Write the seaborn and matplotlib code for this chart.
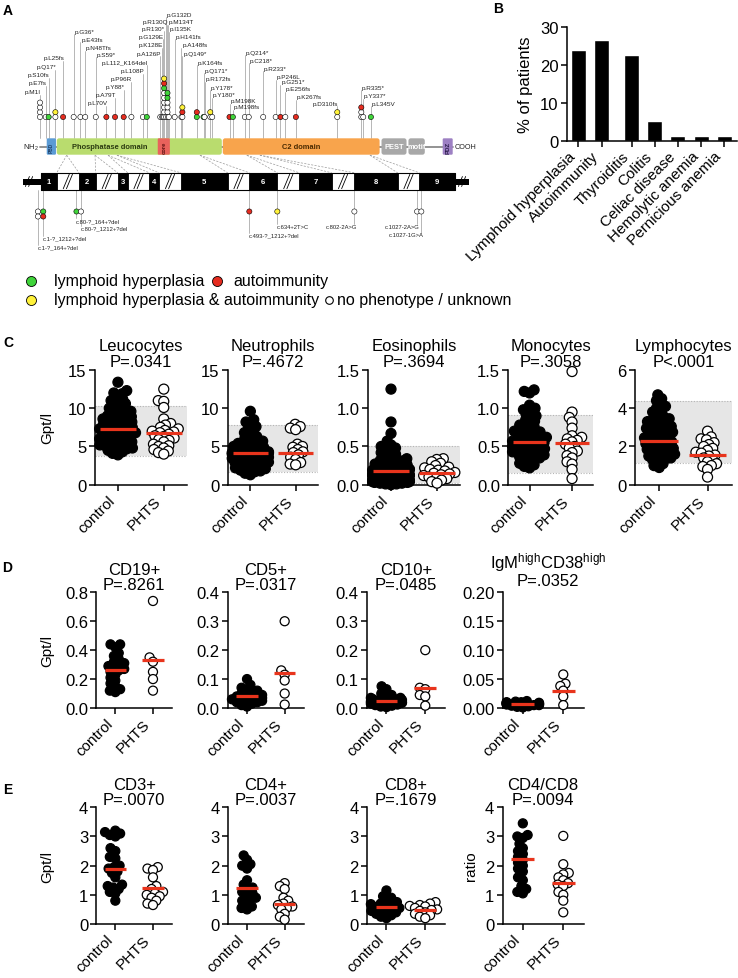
import numpy as np
import pandas as pd
import matplotlib
matplotlib.use('Agg')
import matplotlib.pyplot as plt
import seaborn as sns
from matplotlib.patches import FancyBboxPatch, Rectangle

# ====================== DATA ======================
# ---- Panel A: PTEN protein mutations (amino-acid position, phenotype stack) ----
mut_labels = ['p.M1I', 'p.E7fs', 'p.S10fs', 'p.Q17*', 'p.L25fs',
              'p.G36*', 'p.E43fs', 'p.N48Tfs', 'p.S59*',
              'p.L70V', 'p.A79T', 'p.Y88*', 'p.P96R', 'p.L108P', 'p.L112_K164del',
              'p.A126P', 'p.K128E', 'p.G129E', 'p.R130*', 'p.R130Q',
              'p.G132D', 'p.M134T', 'p.I135K', 'p.H141fs', 'p.A148fs', 'p.Q149*',
              'p.K164fs', 'p.Q171*', 'p.R172fs', 'p.Y178*', 'p.Y180*', 'p.M198K', 'p.M198fs',
              'p.Q214*', 'p.C218*', 'p.R233*', 'p.P246L', 'p.G251*', 'p.E256fs', 'p.K267fs', 'p.D310fs',
              'p.R335*', 'p.Y337*', 'p.L345V']
mut_pos = [1, 7, 10, 17, 25, 36, 43, 48, 59, 70, 79, 88, 96, 108, 112,
           126, 128, 129, 130, 130, 132, 134, 135, 141, 148, 149,
           164, 171, 172, 178, 180, 198, 198,
           214, 218, 233, 246, 251, 256, 267, 310, 335, 337, 345]
# g = lymphoid hyperplasia, r = autoimmunity, y = both, w = none/unknown (bottom -> top)
mut_pheno = ['wwww', 'w', 'g', 'wy', 'r', 'w', 'w', 'w', 'w',
             'r', 'r', 'r', 'w', 'w', 'g',
             'w', 'w', 'w', 'wwwwwwgry', 'wwwwgg',
             'w', 'w', 'w', 'w', 'w', 'wry',
             'gr', 'g', 'w', 'wy', 'w', 'r', 'g',
             'w', 'w', 'w', 'w', 'r', 'w', 'r', 'wy',
             'wwr', 'w', 'g']

domain_names = ['PBD', 'Phosphatase domain', 'core', 'C2 domain', 'PEST', 'motif', 'PDZ']
domain_start = [8, 18.4, 123.4, 191, 356, 384, 419.6]
domain_end = [17.6, 190, 136, 354, 382, 401, 430]

exon_names = ['1', '2', '3', '4', '5', '6', '7', '8', '9']
exon_start = [1.7, 41.5, 81.8, 114.6, 147.6, 218.6, 270.5, 327.8, 395.3]
exon_end = [18.4, 58.9, 92.2, 124.7, 196.1, 247.7, 304.2, 372.8, 432.4]
junction_prot = [28.8, 58.2, 71.7, 81.0, 167.3, 216.0, 229.6, 344.0]

splice_labels = ['c.1-?_1212+?del', 'c.1-?_164+?del', 'c.80-?_164+?del', 'c.80-?_1212+?del',
                 'c.493-?_1212+?del', 'c.634+2T>C', 'c.802-2A>G', 'c.1027-2A>G', 'c.1027-1G>A']
splice_pos = [1.7, 1.7, 41.5, 41.5, 218.6, 247.7, 327.8, 395.3, 395.3]
splice_pheno = ['gr', 'ww', 'g', 'w', 'r', 'y', 'w', 'w', 'w']

legend_labels = ['lymphoid hyperplasia', 'autoimmunity',
                 'lymphoid hyperplasia & autoimmunity', 'no phenotype / unknown']

# ---- Panel B ----
b_categories = ['Lymphoid hyperplasia', 'Autoimmunity', 'Thyroiditis', 'Colitis',
                'Celiac disease', 'Hemolytic anemia', 'Pernicious anemia']
b_values = [24.1, 26.6, 22.8, 5.1, 1.3, 1.3, 1.3]

# ---- Panel C ----
groups = ['control', 'PHTS']
c_titles = ['Leucocytes', 'Neutrophils', 'Eosinophils', 'Monocytes', 'Lymphocytes']
c_pvals = ['P=.0341', 'P=.4672', 'P=.3694', 'P=.3058', 'P<.0001']
leuco_ctrl = [13.4, 12.3, 12.0, 11.9, 11.5, 11.2, 11.0, 10.8, 10.6, 10.4, 10.2, 10.0, 9.9, 9.8, 9.6,
              9.5, 9.4, 9.2, 9.1, 9.0, 8.9, 8.8, 8.7, 8.6, 8.5, 8.4, 8.3, 8.2, 8.1, 8.0, 7.9, 7.8,
              7.7, 7.6, 7.5, 7.4, 7.3, 7.3, 7.2, 7.1, 7.0, 6.9, 6.8, 6.7, 6.6, 6.5, 6.4, 6.3, 6.2,
              6.1, 6.0, 5.9, 5.8, 5.7, 5.6, 5.5, 5.4, 5.3, 5.2, 5.1, 5.0, 4.9, 4.8, 4.7, 4.6, 4.5,
              4.3, 4.1, 3.9]
leuco_phts = [12.5, 11.0, 10.9, 10.1, 8.6, 8.0, 7.8, 7.5, 7.3, 7.1, 7.0, 6.9, 6.8, 6.6, 6.4, 6.3,
              6.1, 5.9, 5.8, 5.6, 5.3, 5.1, 5.0, 4.8, 4.6, 4.4, 4.2, 4.0]
neutro_ctrl = [9.6, 8.5, 8.2, 7.9, 7.6, 7.3, 7.0, 6.8, 6.5, 6.3, 6.1, 5.9, 5.7, 5.5, 5.4, 5.3, 5.2,
               5.1, 5.0, 4.9, 4.8, 4.7, 4.6, 4.5, 4.4, 4.3, 4.2, 4.15, 4.1, 4.05, 4.0, 3.95, 3.9,
               3.8, 3.7, 3.6, 3.5, 3.45, 3.4, 3.3, 3.2, 3.1, 3.0, 2.95, 2.9, 2.8, 2.7, 2.6, 2.5,
               2.4, 2.3, 2.2, 2.1, 2.0, 1.9, 1.8, 1.7, 1.5, 1.3]
neutro_phts = [7.9, 7.6, 7.4, 7.2, 5.3, 5.0, 4.9, 4.6, 4.3, 4.2, 3.9, 3.6, 3.3, 2.9, 2.7, 2.6]
eosino_ctrl = [1.25, 0.82, 0.67, 0.57, 0.52, 0.50, 0.48, 0.46, 0.44, 0.42, 0.40, 0.38, 0.36, 0.34,
               0.32, 0.31, 0.30, 0.29, 0.28, 0.27, 0.26, 0.25, 0.24, 0.23, 0.22, 0.21, 0.20, 0.20,
               0.19, 0.18, 0.18, 0.17, 0.16, 0.16, 0.15, 0.14, 0.14, 0.13, 0.12, 0.12, 0.11, 0.10,
               0.10, 0.09, 0.08, 0.08, 0.07, 0.06, 0.06, 0.05, 0.05, 0.04, 0.04, 0.03, 0.03, 0.02,
               0.02, 0.01, 0.01, 0.0]
eosino_phts = [0.34, 0.33, 0.30, 0.28, 0.25, 0.23, 0.22, 0.20, 0.19, 0.18, 0.16, 0.15, 0.14, 0.13,
               0.12, 0.10, 0.09, 0.08, 0.06, 0.04, 0.02]
mono_ctrl = [1.24, 1.22, 1.20, 1.04, 1.00, 0.98, 0.95, 0.92, 0.90, 0.88, 0.85, 0.83, 0.80, 0.78,
             0.76, 0.74, 0.72, 0.70, 0.69, 0.68, 0.66, 0.65, 0.64, 0.62, 0.61, 0.60, 0.59, 0.58,
             0.57, 0.56, 0.55, 0.54, 0.53, 0.52, 0.51, 0.50, 0.49, 0.48, 0.47, 0.46, 0.45, 0.44,
             0.43, 0.42, 0.41, 0.40, 0.39, 0.38, 0.36, 0.35, 0.34, 0.32, 0.30, 0.28, 0.26, 0.24,
             0.22]
mono_phts = [1.48, 0.95, 0.88, 0.82, 0.74, 0.64, 0.62, 0.60, 0.58, 0.56, 0.53, 0.50, 0.48, 0.44,
             0.42, 0.38, 0.35, 0.30, 0.27, 0.20, 0.08]
lympho_ctrl = [4.7, 4.5, 4.4, 4.2, 4.1, 4.0, 3.9, 3.8, 3.7, 3.6, 3.5, 3.45, 3.4, 3.3, 3.25, 3.2,
               3.1, 3.05, 3.0, 2.95, 2.9, 2.85, 2.8, 2.75, 2.7, 2.65, 2.6, 2.55, 2.5, 2.45, 2.4,
               2.35, 2.3, 2.25, 2.2, 2.15, 2.1, 2.05, 2.0, 1.95, 1.9, 1.85, 1.8, 1.75, 1.7, 1.65,
               1.6, 1.55, 1.5, 1.45, 1.4, 1.35, 1.3, 1.2, 1.1, 1.0, 0.9]
lympho_phts = [2.8, 2.5, 2.4, 2.35, 2.2, 2.1, 2.0, 1.9, 1.8, 1.7, 1.65, 1.55, 1.5, 1.4, 1.3, 1.2,
               1.1, 1.0, 0.95, 0.8, 0.4]
c_ctrl_lines = [7.3, 4.1, 0.18, 0.56, 2.3]
c_phts_lines = [6.7, 4.2, 0.15, 0.54, 1.55]
c_normal_lo = [3.8, 1.6, 0.02, 0.15, 1.12]
c_normal_hi = [10.3, 7.8, 0.5, 0.91, 4.36]

# ---- Panel D ----
d_titles = ['CD19+', 'CD5+', 'CD10+', r'IgM$^{\mathregular{high}}$CD38$^{\mathregular{high}}$']
d_pvals = ['P=.8261', 'P=.0317', 'P=.0485', 'P=.0352']
cd19_ctrl = [0.44, 0.44, 0.42, 0.38, 0.36, 0.34, 0.32, 0.31, 0.30, 0.29, 0.28, 0.27, 0.26, 0.25,
             0.23, 0.21, 0.19, 0.17, 0.15, 0.13, 0.12, 0.11]
cd19_phts = [0.74, 0.35, 0.32, 0.25, 0.20, 0.12]
cd5_ctrl = [0.10, 0.08, 0.07, 0.065, 0.06, 0.055, 0.05, 0.045, 0.045, 0.04, 0.04, 0.035, 0.035,
            0.03, 0.03, 0.025, 0.025, 0.02, 0.02, 0.015, 0.01, 0.005]
cd5_phts = [0.30, 0.13, 0.115, 0.095, 0.05, 0.012]
cd10_ctrl = [0.075, 0.065, 0.05, 0.045, 0.04, 0.035, 0.035, 0.03, 0.03, 0.028, 0.025, 0.025,
             0.022, 0.02, 0.02, 0.018, 0.015, 0.012, 0.01, 0.008, 0.005, 0.003]
cd10_phts = [0.20, 0.07, 0.065, 0.045, 0.04, 0.008]
igm_ctrl = [0.012, 0.011, 0.010, 0.010, 0.009, 0.009, 0.008, 0.008, 0.007, 0.007, 0.006, 0.006,
            0.005, 0.005, 0.004, 0.003, 0.002, 0.001]
igm_phts = [0.058, 0.042, 0.038, 0.030, 0.020, 0.005]
d_ctrl_lines = [0.265, 0.04, 0.025, 0.007]
d_phts_lines = [0.33, 0.12, 0.07, 0.03]

# ---- Panel E ----
e_titles = ['CD3+', 'CD4+', 'CD8+', 'CD4/CD8']
e_pvals = ['P=.0070', 'P=.0037', 'P=.1679', 'P=.0094']
cd3_ctrl = [3.2, 3.15, 3.1, 3.05, 3.0, 2.6, 2.5, 2.3, 2.25, 2.0, 1.95, 1.9, 1.8, 1.75, 1.6, 1.35,
            1.3, 1.25, 1.2, 1.1, 1.05, 0.8]
cd3_phts = [1.95, 1.9, 1.85, 1.6, 1.3, 1.2, 1.1, 1.05, 1.0, 0.95, 0.9, 0.8, 0.7, 0.65]
cd4_ctrl = [2.35, 2.2, 2.05, 2.0, 1.9, 1.5, 1.35, 1.25, 1.2, 1.1, 1.05, 1.0, 0.9, 0.85, 0.8, 0.7,
            0.6, 0.55, 0.5]
cd4_phts = [1.4, 1.3, 1.2, 0.9, 0.8, 0.7, 0.65, 0.6, 0.55, 0.5, 0.35, 0.25, 0.15]
cd8_ctrl = [1.15, 0.95, 0.9, 0.8, 0.75, 0.7, 0.68, 0.65, 0.6, 0.58, 0.55, 0.5, 0.48, 0.45, 0.4,
            0.38, 0.35, 0.3, 0.25, 0.2]
cd8_phts = [0.75, 0.7, 0.65, 0.62, 0.6, 0.55, 0.5, 0.48, 0.45, 0.4, 0.35, 0.3, 0.25, 0.2]
ratio_ctrl = [3.45, 3.05, 3.0, 2.95, 2.75, 2.6, 2.5, 2.4, 2.3, 2.2, 2.1, 2.0, 1.9, 1.8, 1.6, 1.5,
              1.3, 1.2, 1.1, 1.05]
ratio_phts = [3.02, 2.05, 1.75, 1.7, 1.6, 1.5, 1.4, 1.35, 1.3, 1.1, 1.0, 0.8, 0.4]
e_ctrl_lines = [1.87, 1.23, 0.58, 2.22]
e_phts_lines = [1.22, 0.68, 0.47, 1.42]

# ====================== STYLE / LAYOUT ======================
sns.set_theme(style='ticks')
plt.rcParams['font.family'] = ['Liberation Sans', 'DejaVu Sans']
plt.rcParams['mathtext.fontset'] = 'custom'
plt.rcParams['mathtext.rm'] = 'Liberation Sans'
plt.rcParams['mathtext.it'] = 'Liberation Sans:italic'
plt.rcParams['mathtext.bf'] = 'Liberation Sans:bold'
for k in ['text.color', 'axes.labelcolor', 'xtick.color', 'ytick.color', 'axes.edgecolor']:
    plt.rcParams[k] = 'black'

W, H = 738, 979
fig = plt.figure(figsize=(W / 100, H / 100), dpi=100)
RED = '#e8341c'
PHENO_COLORS = {'g': '#3fd43a', 'r': '#e52b1f', 'y': '#fff23a', 'w': 'white'}
GROUP_COLORS = {'control': 'black', 'PHTS': 'white'}


def add_ax(x0, y0, x1, y1):
    return fig.add_axes([x0 / W, 1 - y1 / H, (x1 - x0) / W, (y1 - y0) / H])


def style_ax(ax, labelsize=12):
    sns.despine(ax=ax)
    for s in ['left', 'bottom']:
        ax.spines[s].set_linewidth(1.1)
        ax.spines[s].set_color('black')
    ax.tick_params(direction='out', length=4, width=1.1, colors='black',
                   labelsize=labelsize, pad=2)


# ====================== PANEL A ======================
PX_PER_AA = 0.962
def px2aa(px):
    return (px - 40) / PX_PER_AA + 1
PXU = 1 / PX_PER_AA

axA = add_ax(0, 0, 470, 310)
axA.set_xlim(px2aa(0), px2aa(470))
axA.set_ylim(310, 0)
axA.axis('off')

BASE_Y, STEP, DOM_TOP, DOM_BOT, DOM_MID = 118, 4.8, 139.3, 155.7, 147.5
EX_TOP, EX_BOT, EX_MID = 174.3, 190.7, 182.5

label_y = [92.7, 84, 76, 67.7, 58.7, 32.3, 40.3, 48.7, 55.3,
           104, 96, 87.7, 80, 71.7, 63.3, 54.3, 45.7, 37.3, 29.3, 22.7,
           15, 22.7, 30, 37.3, 45.7, 54.3, 63.3, 71, 80, 88.3, 96, 101.7, 108,
           53, 61, 69, 77.7, 82.7, 90, 97.7, 104.3, 88.3, 96.7, 104.3]
label_ha = list('rrrrr' + 'llll' + 'rrrrrr' + 'rrrrr' + 'l' * 13 + 'lllllll' + 'r' + 'lll')

circles = []
prev = None
for lab, pos, ph, ly, ha in zip(mut_labels, mut_pos, mut_pheno, label_y, label_ha):
    x = pos + (3.5 if pos == prev else 0)
    prev = pos
    axA.plot([x, x], [ly + 3, DOM_TOP], color='#9a9a9a', lw=0.5, zorder=1)
    for i, p in enumerate(ph):
        circles.append((x, BASE_Y - i * STEP, p))
    if ha == 'l':
        axA.text(x + 0.8 * PXU, ly, lab, ha='left', va='center', fontsize=4.6, color='#222')
    else:
        axA.text(x + 1.0 * PXU, ly, lab, ha='right', va='center', fontsize=4.6, color='#222')

# splice / deletion variants below exons
splice_dx = [2.6, -2.7, -2.5, 2.0, 0, 0, 0, -2.2, 2.0]
splice_ly = [239, 248, 221.7, 229.3, 236, 227.3, 227.3, 227.3, 236]
splice_ha = ['l', 'l', 'l', 'l', 'l', 'l', 'r', 'r', 'r']
for lab, pos, ph, dx, ly, ha in zip(splice_labels, splice_pos, splice_pheno, splice_dx, splice_ly, splice_ha):
    x = pos + dx * PXU
    axA.plot([x, x], [EX_BOT, ly - 2.5], color='#9a9a9a', lw=0.5, zorder=1)
    for i, p in enumerate(ph):
        circles.append((x, 212.5 + i * 5, p))
    if ha == 'l':
        axA.text(x - 0.5 * PXU, ly, lab, ha='left', va='center', fontsize=4.2, color='#222')
    else:
        axA.text(x + 2.5 * PXU, ly, lab, ha='right', va='center', fontsize=4.2, color='#222')

dfc = pd.DataFrame(circles, columns=['x', 'y', 'pheno'])
sns.scatterplot(data=dfc, x='x', y='y', hue='pheno', palette=PHENO_COLORS, s=14,
                edgecolor='black', linewidth=0.4, legend=False, ax=axA, zorder=4)
axA.set_xlabel('')
axA.set_ylabel('')

# protein backbone + domains
axA.plot([px2aa(39.5), px2aa(453)], [DOM_MID, DOM_MID], color='#8a8a8a', lw=1.3, zorder=1)
dom_colors = ['#5b9bd5', '#b9dc6e', '#e8625c', '#f8a44c', '#a8a8a8', '#a8a8a8', '#9d80c3']
dom_text_color = ['#1f3f66', '#2b3a10', '#5a1010', '#4a2a00', 'white', 'white', '#2a1a4a']
dom_order = [1, 2, 0, 3, 4, 5, 6]
for i in dom_order:
    x0, x1 = domain_start[i], domain_end[i]
    rs = 1.2 if i in (0, 2, 6) else 2.5
    axA.add_patch(FancyBboxPatch((x0, DOM_TOP), x1 - x0, DOM_BOT - DOM_TOP,
                                 boxstyle=f'round,pad=0,rounding_size={rs}',
                                 fc=dom_colors[i], ec='none', zorder=2))
    rot = 90 if i in (0, 2, 6) else 0
    fs = {0: 3.4, 2: 4.2, 6: 4.4}.get(i, 5.4)
    cx = px2aa(110) if i == 1 else (x0 + x1) / 2
    axA.text(cx, DOM_MID, domain_names[i], ha='center', va='center', rotation=rot,
             fontsize=fs, fontweight='bold', color=dom_text_color[i], zorder=3)
axA.text(px2aa(38.5), DOM_MID, 'NH$_2$', ha='right', va='center', fontsize=5.5, color='#222')
axA.text(px2aa(454.5), DOM_MID, 'COOH', ha='left', va='center', fontsize=5.2, color='#222')

# junction dashed lines
for i, jp in enumerate(junction_prot):
    for tx in (exon_end[i], exon_start[i + 1]):
        axA.plot([jp, tx], [DOM_BOT + 0.5, EX_TOP - 0.5], color='#9a9a9a', lw=0.5,
                 ls=(0, (3, 2)), zorder=1)

# gene (exon) diagram
axA.add_patch(Rectangle((px2aa(23), EX_MID - 3), exon_start[0] - px2aa(23), 6, fc='black', ec='none', zorder=2))
axA.add_patch(Rectangle((exon_end[-1], EX_MID - 3), px2aa(469) - exon_end[-1], 6, fc='black', ec='none', zorder=2))
axA.add_patch(Rectangle((exon_start[0], EX_TOP), exon_end[-1] - exon_start[0], EX_BOT - EX_TOP,
                        fc='white', ec='black', lw=0.8, zorder=2))
for name, x0, x1 in zip(exon_names, exon_start, exon_end):
    axA.add_patch(Rectangle((x0, EX_TOP), x1 - x0, EX_BOT - EX_TOP, fc='black', ec='black', lw=0.6, zorder=3))
    axA.text((x0 + x1) / 2, EX_MID, name, ha='center', va='center', fontsize=5.5,
             fontweight='bold', color='white', zorder=4)


def slashes(xm, ytop, ybot, wid=3.0):
    for k in (-1.6, 1.6):
        axA.plot([xm + (k - wid) * PXU, xm + (k + wid) * PXU], [ybot, ytop], color='black', lw=0.6, zorder=4)


for i in range(len(exon_end) - 1):
    slashes((exon_end[i] + exon_start[i + 1]) / 2, EX_TOP + 1, EX_BOT - 1)
slashes(px2aa(29), EX_MID - 5, EX_MID + 5, 2.0)
slashes(px2aa(462), EX_MID - 5, EX_MID + 5, 2.0)

# legend
leg_keys = ['g', 'r', 'y', 'w']
leg_px = [(31, 281.7, 54.3), (216.7, 281.7, 233), (31, 301, 54.3), (329, 301, 336.7)]
for key, lab, (mx, my, tx) in zip(leg_keys, legend_labels, leg_px):
    if key == 'w':
        axA.scatter([px2aa(mx)], [my], s=30, c='white', edgecolors='black', linewidths=0.8,
                    clip_on=False, zorder=4)
    else:
        axA.scatter([px2aa(mx)], [my], s=52, c=PHENO_COLORS[key], edgecolors='black',
                    linewidths=0.6, clip_on=False, zorder=4)
    axA.text(px2aa(tx), my, lab, ha='left', va='center', fontsize=11.5, color='black')

# ====================== PANEL B ======================
axB = add_ax(566.7, 28.3, 736.7, 141.7)
b_positions = [0, 1, 2.3, 3.3, 4.3, 5.3, 6.3]
sns.barplot(x=b_positions, y=b_values, native_scale=True, color='black', width=0.65,
            saturation=1, ax=axB)
axB.set_xlim(-0.51, 6.84)
axB.set_ylim(0, 30)
axB.set_yticks([0, 10, 20, 30])
axB.set_xticks(b_positions)
axB.set_xticklabels(b_categories, rotation=45, ha='right', fontsize=11)
axB.set_ylabel('% of patients', fontsize=12)
axB.yaxis.set_label_coords(-0.20, 0.5)
style_ax(axB)
axB.tick_params(axis='x', labelsize=11)

# ====================== PANELS C, D, E ======================
swarm_registry = []


def dot_panel(ax, ctrl, phts, cl, pl, ymax, yticks, fmt, title, pval,
              band=None, draw_size=7.2, layout_size=4.4, hw=0.39, pad=3, tsize=12, tx=0.5):
    df = pd.DataFrame({'group': ['control'] * len(ctrl) + ['PHTS'] * len(phts),
                       'value': list(ctrl) + list(phts)})
    if band is not None:
        ax.axhspan(band[0], band[1], color='#e6e6e6', lw=0, zorder=0)
        for b in band:
            ax.axhline(b, ls=(0, (1, 1.5)), color='#b5b5b5', lw=0.8, zorder=0.5)
    n0 = len(ax.collections)
    sns.swarmplot(data=df, x='group', y='value', hue='group', order=groups, hue_order=groups,
                  palette=GROUP_COLORS, size=layout_size, linewidth=0.9, edgecolor='black',
                  legend=False, ax=ax, zorder=3, warn_thresh=1.0)
    for c in ax.collections[n0:]:
        c.set_clip_on(False)
        swarm_registry.append((c, draw_size))
    ax.hlines([cl, pl], [0 - hw, 1 - hw], [0 + hw, 1 + hw], color=RED, lw=2.3, zorder=6)
    ax.set_xlim(-0.5, 1.5)
    ax.set_ylim(0, ymax)
    ax.set_yticks(yticks)
    ax.set_yticklabels([fmt.format(t) for t in yticks])
    ax.set_xticks([0, 1])
    ax.set_xticklabels(groups, rotation=45, ha='right')
    ax.set_xlabel('')
    ax.set_ylabel('')
    t = ax.set_title(f'{title}\n{pval}', fontsize=tsize, linespacing=1.05, pad=pad)
    t.set_x(tx)
    style_ax(ax)
    ax.tick_params(axis='x', labelsize=11)


# Panel C
c_boxes = [(95, 186.7), (227.7, 318.3), (368, 460), (508.3, 593.3), (635, 731.7)]
c_ctrl = [leuco_ctrl, neutro_ctrl, eosino_ctrl, mono_ctrl, lympho_ctrl]
c_phts = [leuco_phts, neutro_phts, eosino_phts, mono_phts, lympho_phts]
c_ymax = [15, 15, 1.5, 1.5, 6]
c_ticks = [[0, 5, 10, 15], [0, 5, 10, 15], [0, 0.5, 1.0, 1.5], [0, 0.5, 1.0, 1.5], [0, 2, 4, 6]]
c_fmt = ['{:g}', '{:g}', '{:.1f}', '{:.1f}', '{:g}']
c_axes = []
for i, (x0, x1) in enumerate(c_boxes):
    ax = add_ax(x0, 371, x1, 485.7)
    dot_panel(ax, c_ctrl[i], c_phts[i], c_ctrl_lines[i], c_phts_lines[i], c_ymax[i], c_ticks[i],
              c_fmt[i], c_titles[i], c_pvals[i], band=(c_normal_lo[i], c_normal_hi[i]),
              draw_size=7.2, layout_size=2.9, hw=0.39, pad=3)
    c_axes.append(ax)
c_axes[0].set_ylabel('Gpt/l', fontsize=11)
c_axes[0].yaxis.set_label_coords(-0.44, 0.5)

# Panel D
de_boxes = [(96.5, 171.8), (228.2, 303.5), (367, 444.7), (502.6, 583.5)]
d_ctrl = [cd19_ctrl, cd5_ctrl, cd10_ctrl, igm_ctrl]
d_phts = [cd19_phts, cd5_phts, cd10_phts, igm_phts]
d_ymax = [0.8, 0.4, 0.4, 0.2]
d_ticks = [[0, 0.2, 0.4, 0.6, 0.8], [0, 0.1, 0.2, 0.3, 0.4], [0, 0.1, 0.2, 0.3, 0.4],
           [0, 0.05, 0.10, 0.15, 0.20]]
d_fmt = ['{:.1f}', '{:.1f}', '{:.1f}', '{:.2f}']
d_axes = []
for i, (x0, x1) in enumerate(de_boxes):
    ax = add_ax(x0, 593.3, x1, 709)
    dot_panel(ax, d_ctrl[i], d_phts[i], d_ctrl_lines[i], d_phts_lines[i], d_ymax[i], d_ticks[i],
              d_fmt[i], d_titles[i], d_pvals[i], draw_size=6.5, layout_size=3.0, hw=0.28,
              pad=5 if i == 3 else 1.0, tx=0.56 if i == 3 else 0.5)
    d_axes.append(ax)
d_axes[0].set_ylabel('Gpt/l', fontsize=11)
d_axes[0].yaxis.set_label_coords(-0.56, 0.5)

# Panel E
e_ctrl = [cd3_ctrl, cd4_ctrl, cd8_ctrl, ratio_ctrl]
e_phts = [cd3_phts, cd4_phts, cd8_phts, ratio_phts]
e_axes = []
for i, (x0, x1) in enumerate(de_boxes):
    ax = add_ax(x0, 808.3, x1, 925)
    dot_panel(ax, e_ctrl[i], e_phts[i], e_ctrl_lines[i], e_phts_lines[i], 4, [0, 1, 2, 3, 4],
              '{:g}', e_titles[i], e_pvals[i], draw_size=6.5, layout_size=3.0, hw=0.28, pad=0.5)
    e_axes.append(ax)
e_axes[0].set_ylabel('Gpt/l', fontsize=11)
e_axes[0].yaxis.set_label_coords(-0.56, 0.5)
e_axes[3].set_ylabel('ratio', fontsize=11)
e_axes[3].yaxis.set_label_coords(-0.31, 0.5)

# panel letters
for letter, (x, y) in zip('ABCDE', [(7.5, 11), (498, 9), (8.5, 343), (7.5, 568), (8, 790)]):
    fig.text(x / W, 1 - y / H, letter, ha='center', va='center', fontsize=10, fontweight='bold')

# compute swarm layout with small markers, then draw larger, overlapping markers (GraphPad look)
fig.canvas.draw()
for coll, size in swarm_registry:
    if 'draw' in coll.__dict__:
        del coll.__dict__['draw']
    coll.set_sizes([size ** 2])

fig.savefig('out.png', dpi=100)
